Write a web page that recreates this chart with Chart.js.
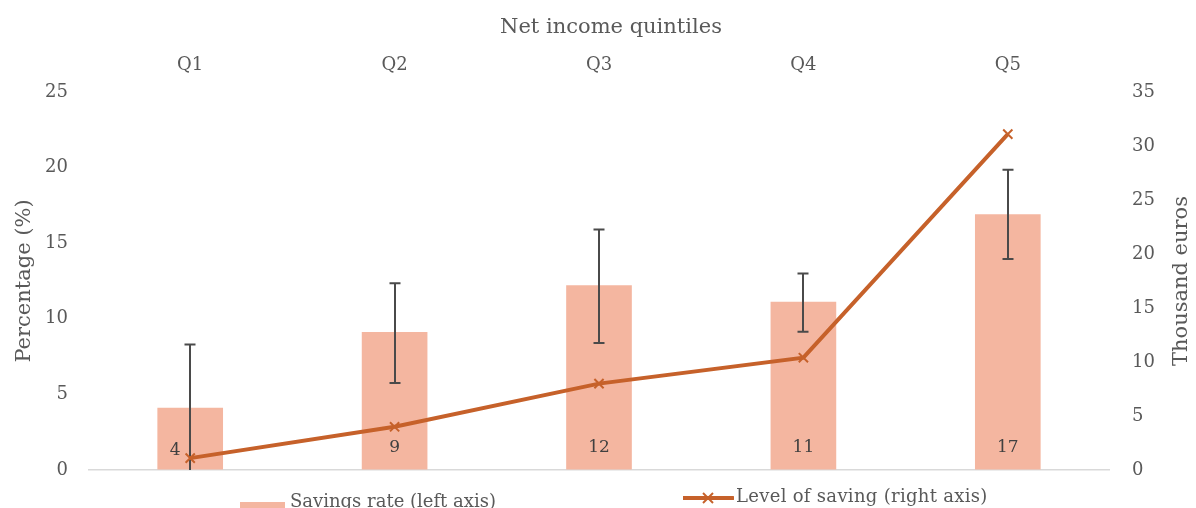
<!DOCTYPE html>
<html>
<head>
<meta charset="utf-8">
<script src="https://cdn.jsdelivr.net/npm/chart.js@4.4.1/dist/chart.umd.min.js"></script>
<style>
  html, body { margin: 0; padding: 0; background: #ffffff; }
  #wrap { position: relative; width: 1196px; height: 508px; overflow: hidden; background: #ffffff; }
  #c { position: absolute; left: 0; top: 0; }
  .leg { position: absolute; white-space: nowrap; font-family: "DejaVu Serif", serif; font-size: 18px; line-height: 18px; color: #595959; }
  .sw { position: absolute; }
</style>
</head>
<body>
<div id="wrap">
  <canvas id="c" width="1196" height="508"></canvas>
  <div class="sw" style="left:240px;top:502px;width:45px;height:11px;background:#F4B6A0;"></div>
  <div class="leg" style="left:290px;top:492px;">Savings rate (left axis)</div>
  <svg class="sw" style="left:683px;top:490px;" width="51" height="16" viewBox="0 0 51 16">
    <line x1="0" y1="8" x2="50" y2="8" stroke="#C6612A" stroke-width="4" stroke-linecap="round"/>
    <line x1="20" y1="3" x2="30" y2="13" stroke="#C6612A" stroke-width="2"/>
    <line x1="30" y1="3" x2="20" y2="13" stroke="#C6612A" stroke-width="2"/>
  </svg>
  <div class="leg" style="left:736px;top:487px;letter-spacing:0.3px;">Level of saving (right axis)</div>
</div>
<script>
// ---- Data ----
const categories = ['Q1', 'Q2', 'Q3', 'Q4', 'Q5'];
const savingsRate = [4.1, 9.1, 12.2, 11.1, 16.9];          // %, left axis
const savingsRateLow = [0, 5.75, 8.4, 9.15, 13.95];        // error bar lower end
const savingsRateHigh = [8.3, 12.35, 15.9, 13.0, 19.85];   // error bar upper end
const savingsRateLabels = ['4', '9', '12', '11', '17'];
const savingLevel = [1.1, 4.0, 8.0, 10.4, 31.1];           // thousand euros, right axis
const leftTicks = [0, 5, 10, 15, 20, 25];
const rightTicks = [0, 5, 10, 15, 20, 25, 30, 35];

const FONT = '"DejaVu Serif", serif';
const TXT = '#595959';
const BAR = '#F4B6A0';
const LINE = '#C6612A';

const errorBarPlugin = {
  id: 'errorBars',
  afterDatasetDraw(chart, args) {
    if (args.index !== 1) return;
    const ctx = chart.ctx;
    const y = chart.scales.y;
    const meta = chart.getDatasetMeta(1);
    ctx.save();
    ctx.strokeStyle = '#4A4A4A';
    ctx.lineWidth = 2;
    meta.data.forEach((bar, i) => {
      const yl = y.getPixelForValue(savingsRateLow[i]);
      const yh = y.getPixelForValue(savingsRateHigh[i]);
      const x = Math.round(bar.x);
      ctx.beginPath();
      ctx.moveTo(x, yl); ctx.lineTo(x, yh);
      ctx.moveTo(x - 5.5, yh); ctx.lineTo(x + 5.5, yh);
      if (savingsRateLow[i] > 0) { ctx.moveTo(x - 5.5, yl); ctx.lineTo(x + 5.5, yl); }
      ctx.stroke();
    });
    // bar value labels
    ctx.fillStyle = '#404040';
    ctx.font = '17px ' + FONT;
    ctx.textAlign = 'center';
    ctx.textBaseline = 'middle';
    meta.data.forEach((bar, i) => {
      const dx = i === 0 ? -15 : 0;
      const dy = i === 0 ? 19 : 22;
      ctx.fillText(savingsRateLabels[i], bar.x + dx, bar.base - dy);
    });
    ctx.restore();
  }
};

const titlesPlugin = {
  id: 'titles',
  afterDraw(chart) {
    const ctx = chart.ctx;
    const a = chart.chartArea;
    ctx.save();
    ctx.fillStyle = TXT;
    ctx.font = '21px ' + FONT;
    ctx.textAlign = 'center';
    ctx.textBaseline = 'middle';
    ctx.fillText('Net income quintiles', 611, 28);
    ctx.translate(1182, (a.top + a.bottom) / 2);
    ctx.rotate(-Math.PI / 2);
    ctx.fillText('Thousand euros', 0, 0);
    ctx.restore();
  }
};

new Chart(document.getElementById('c'), {
  data: {
    labels: categories,
    datasets: [
      {
        type: 'line',
        label: 'Level of saving (right axis)',
        data: savingLevel,
        yAxisID: 'y1',
        borderColor: LINE,
        backgroundColor: LINE,
        borderWidth: 4,
        pointStyle: 'crossRot',
        pointRadius: 6.5,
        pointBorderWidth: 2,
        pointBorderColor: LINE,
        tension: 0,
        fill: false
      },
      {
        type: 'bar',
        label: 'Savings rate (left axis)',
        data: savingsRate,
        yAxisID: 'y',
        backgroundColor: BAR,
        borderWidth: 0,
        barThickness: 65
      }
    ]
  },
  options: {
    responsive: false,
    animation: false,
    layout: { padding: { left: 0, right: 0, top: 0, bottom: 38 } },
    plugins: { legend: { display: false }, tooltip: { enabled: false } },
    scales: {
      x: {
        position: 'top',
        offset: true,
        grid: { display: false, drawTicks: false },
        border: { display: false },
        ticks: { color: TXT, font: { family: FONT, size: 18 }, padding: 16 },
        afterFit(s) { s.height = 92; }
      },
      y: {
        position: 'left',
        min: 0, max: 25,
        afterBuildTicks(s) { s.ticks = leftTicks.map(v => ({ value: v })); },
        grid: { color: c => (c.tick && c.tick.value === 0 ? '#D9D9D9' : 'rgba(0,0,0,0)'), lineWidth: 1.5, drawTicks: false },
        border: { display: false },
        ticks: { color: TXT, font: { family: FONT, size: 18 }, padding: 20 },
        title: { display: true, text: 'Percentage (%)', color: TXT, font: { family: FONT, size: 21 }, padding: { top: 12, bottom: 0 } },
        afterFit(s) { s.width = 88; }
      },
      y1: {
        position: 'right',
        min: 0, max: 35,
        afterBuildTicks(s) { s.ticks = rightTicks.map(v => ({ value: v })); },
        grid: { display: false, drawTicks: false },
        border: { display: false },
        ticks: { color: TXT, font: { family: FONT, size: 18 }, padding: 22 },
        afterFit(s) { s.width = 86; }
      }
    }
  },
  plugins: [errorBarPlugin, titlesPlugin]
});
</script>
</body>
</html>
